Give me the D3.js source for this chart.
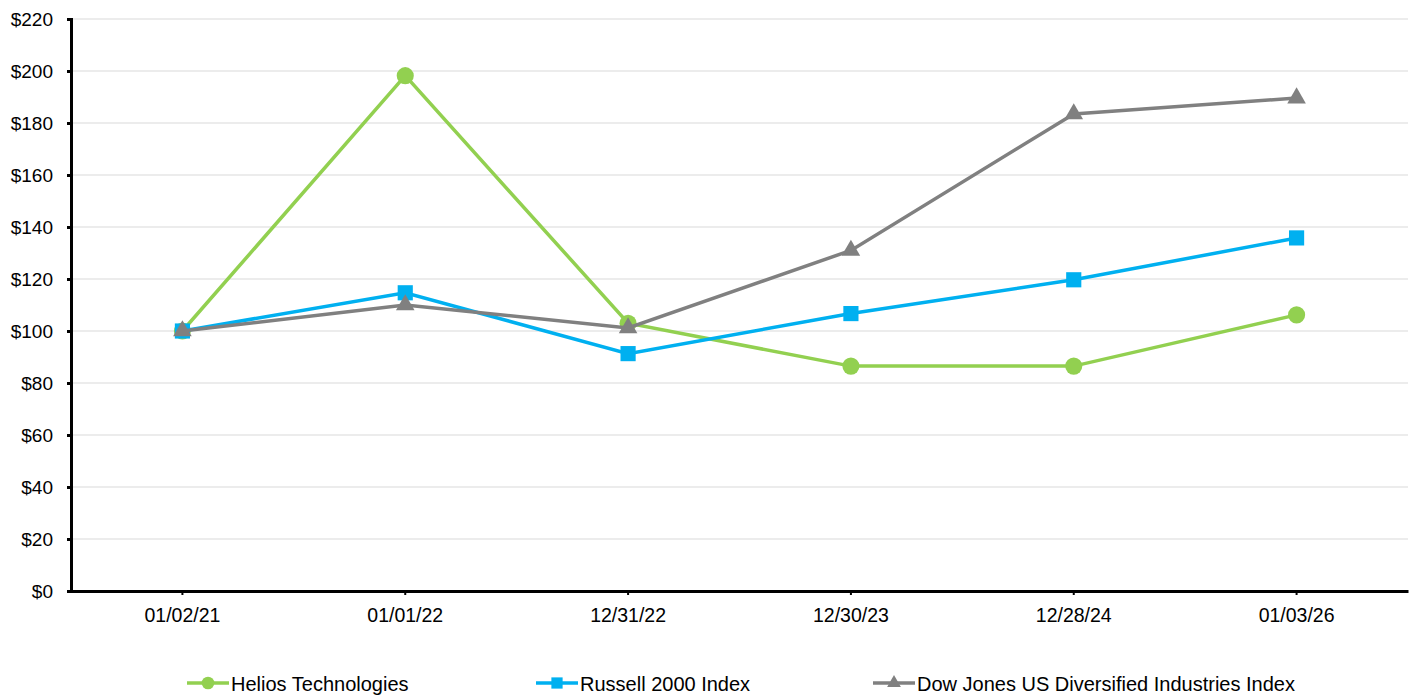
<!DOCTYPE html>
<html><head><meta charset="utf-8">
<script src="https://cdn.jsdelivr.net/npm/d3@7"></script>
<style>body{margin:0;background:#fff}text{font-family:"Liberation Sans",Arial,sans-serif;fill:#000}</style>
</head><body><svg id="c" width="1418" height="696"></svg>
<script>
const categories = ["01/02/21","01/01/22","12/31/22","12/30/23","12/28/24","01/03/26"];
const helios = [100, 198.2, 103, 86.5, 86.5, 106.2];
const russell = [100, 114.7, 91.3, 106.7, 119.7, 135.8];
const dowJones = [100, 110, 101.2, 131, 183.5, 189.6];
const yTicks = [0,20,40,60,80,100,120,140,160,180,200,220];
const seriesNames = ["Helios Technologies","Russell 2000 Index","Dow Jones US Diversified Industries Index"];

const svg = d3.select("#c");
const L = 71, R = 1408, T = 19, B = 591;
const x = d3.scaleBand().domain(categories).range([L, R]);
const y = d3.scaleLinear().domain([0, 220]).range([B, T]);

// gridlines
svg.append("g").selectAll("line").data(yTicks.slice(1)).join("line")
  .attr("x1", L).attr("x2", R).attr("y1", d => y(d)).attr("y2", d => y(d))
  .attr("stroke", "#d9d9d9").attr("stroke-width", 1);

// y axis
const ya = svg.append("g").attr("transform", `translate(${L},0)`)
  .call(d3.axisLeft(y).tickValues(yTicks).tickFormat(d => "$" + d).tickSize(4).tickPadding(14));
ya.select(".domain").attr("stroke", "#000").attr("stroke-width", 3);
ya.selectAll(".tick line").attr("stroke", "#000").attr("stroke-width", 3);
ya.selectAll("text").attr("font-size", 19).attr("fill", "#000").style("font-family", "Liberation Sans, Arial, sans-serif");

// x axis
const xa = svg.append("g").attr("transform", `translate(0,${B})`)
  .call(d3.axisBottom(x).tickSize(4).tickSizeOuter(0).tickPadding(13));
xa.select(".domain").attr("stroke", "#000").attr("stroke-width", 3);
xa.selectAll(".tick line").attr("stroke", "#000").attr("stroke-width", 2);
xa.selectAll("text").attr("font-size", 19.5).attr("fill", "#000").style("font-family", "Liberation Sans, Arial, sans-serif");

const cx = c => x(c) + x.bandwidth() / 2;
const series = [
  {name: seriesNames[0], vals: helios, color: "#92d050", sym: d3.symbolCircle, size: 230},
  {name: seriesNames[1], vals: russell, color: "#00b0f0", sym: d3.symbolSquare, size: 230},
  {name: seriesNames[2], vals: dowJones, color: "#808080", sym: d3.symbolTriangle, size: 150}
];
const line = d3.line().x((d, i) => cx(categories[i])).y(d => y(d));
series.forEach(s => {
  const g = svg.append("g");
  g.append("path").attr("d", line(s.vals)).attr("fill", "none").attr("stroke", s.color).attr("stroke-width", 3.5);
  g.selectAll("path.m").data(s.vals).join("path").attr("class", "m")
    .attr("d", d3.symbol().type(s.sym).size(s.size))
    .attr("transform", (d, i) => `translate(${cx(categories[i])},${y(d)})`)
    .attr("fill", s.color);
});

// legend
const legX = [187, 536, 873];
series.forEach((s, i) => {
  const g = svg.append("g").attr("transform", `translate(${legX[i]},683)`);
  g.append("line").attr("x1", 0).attr("x2", 42).attr("stroke", s.color).attr("stroke-width", 3.5);
  g.append("path").attr("d", d3.symbol().type(s.sym).size(s.size * 0.55)()).attr("transform", "translate(21,0)").attr("fill", s.color);
  g.append("text").attr("x", 44).attr("y", 7.5).attr("font-size", 20).text(s.name);
});
</script></body></html>
